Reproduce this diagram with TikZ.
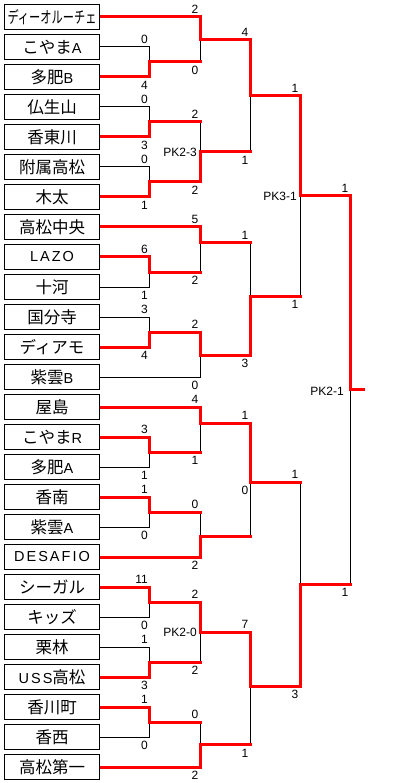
\documentclass[tikz,border=0pt]{standalone}
\usepackage{fontspec}
\usepackage{graphicx}
\setmainfont{Liberation Sans}
\newfontfamily\jp{Noto Sans CJK JP}
\newfontfamily\latn[LetterSpace=14]{Liberation Sans}
\newcommand\romn[1]{{\latn\fontsize{14.5}{16}\selectfont #1}}
\usetikzlibrary{backgrounds}
\tikzset{
  team/.style={draw, line width=1pt, fill=white, minimum width=95pt, minimum height=25pt,
    inner sep=0pt, font=\jp\fontsize{16.5}{18}\selectfont},
  lose/.style={line width=1pt, black},
  win/.style={line width=3pt, red, line cap=rect, line join=miter},
  sc/.style={font=\fontsize{12}{12}\selectfont, inner sep=0pt, anchor=east},
}
\begin{document}
\begin{tikzpicture}[x=1pt,y=-1pt]
\useasboundingbox (0,0) rectangle (413,783);
% teams
\node[team] (t0) at (52,17) {\scalebox{0.68}[1]{ディーオルーチェ}};
\node[team] (t1) at (52,47) {こやま\romn{A}};
\node[team] (t2) at (52,77) {多肥\romn{B}};
\node[team] (t3) at (52,107) {仏生山};
\node[team] (t4) at (52,137) {香東川};
\node[team] (t5) at (52,167) {附属高松};
\node[team] (t6) at (52,197) {木太};
\node[team] (t7) at (52,227) {高松中央};
\node[team] (t8) at (52,257) {\romn{LAZO}};
\node[team] (t9) at (52,287) {十河};
\node[team] (t10) at (52,317) {国分寺};
\node[team] (t11) at (52,347) {ディアモ};
\node[team] (t12) at (52,377) {紫雲\romn{B}};
\node[team] (t13) at (52,407) {屋島};
\node[team] (t14) at (52,437) {こやま\romn{R}};
\node[team] (t15) at (52,467) {多肥\romn{A}};
\node[team] (t16) at (52,497) {香南};
\node[team] (t17) at (52,527) {紫雲\romn{A}};
\node[team] (t18) at (52,557) {\romn{DESAFIO}};
\node[team] (t19) at (52,587) {シーガル};
\node[team] (t20) at (52,617) {キッズ};
\node[team] (t21) at (52,647) {栗林};
\node[team] (t22) at (52,677) {\romn{USS}高松};
\node[team] (t23) at (52,707) {香川町};
\node[team] (t24) at (52,737) {香西};
\node[team] (t25) at (52,767) {高松第一};
% junctions
\coordinate (a1) at (149.5,62);
\coordinate (a2) at (149.5,122);
\coordinate (a3) at (149.5,182);
\coordinate (a4) at (149.5,272);
\coordinate (a5) at (149.5,332);
\coordinate (a6) at (149.5,452);
\coordinate (a7) at (149.5,512);
\coordinate (a8) at (149.5,602);
\coordinate (a9) at (149.5,662);
\coordinate (a10) at (149.5,722);
\coordinate (b1) at (200,39.5);
\coordinate (b2) at (200,152);
\coordinate (b3) at (200,243);
\coordinate (b4) at (200,355);
\coordinate (b5) at (200,423);
\coordinate (b6) at (200,536);
\coordinate (b7) at (200,632);
\coordinate (b8) at (200,744.5);
\coordinate (c1) at (250,95.5);
\coordinate (c2) at (250,296);
\coordinate (c3) at (250,482);
\coordinate (c4) at (250,686);
\coordinate (d1) at (300,195.5);
\coordinate (d2) at (300,584);
\coordinate (e1) at (350,389.5);
\coordinate (fin) at (363,389.5);
\begin{scope}[on background layer]
% losers (black)
\draw[lose] (t1.east) -| (a1);
\draw[lose] (t3.east) -| (a2);
\draw[lose] (t5.east) -| (a3);
\draw[lose] (t9.east) -| (a4);
\draw[lose] (t10.east) -| (a5);
\draw[lose] (t15.east) -| (a6);
\draw[lose] (t17.east) -| (a7);
\draw[lose] (t20.east) -| (a8);
\draw[lose] (t21.east) -| (a9);
\draw[lose] (t24.east) -| (a10);
\draw[lose] (b1 |- a1) -- (b1);
\draw[lose] (b2 |- a2) -- (b2);
\draw[lose] (b3 |- a4) -- (b3);
\draw[lose] (t12.east) -| (b4);
\draw[lose] (b5 |- a6) -- (b5);
\draw[lose] (b6 |- a7) -- (b6);
\draw[lose] (b7 |- a9) -- (b7);
\draw[lose] (b8 |- a10) -- (b8);
\draw[lose] (c1 |- b2) -- (c1);
\draw[lose] (c2 |- b3) -- (c2);
\draw[lose] (c3 |- b6) -- (c3);
\draw[lose] (c4 |- b8) -- (c4);
\draw[lose] (d1 |- c2) -- (d1);
\draw[lose] (d2 |- c3) -- (d2);
\draw[lose] (e1 |- d2) -- (e1);
% winners (red)
\draw[win] (t2.east) -| (a1) -- (b1 |- a1);
\draw[win] (t4.east) -| (a2) -- (b2 |- a2);
\draw[win] (t6.east) -| (a3) -- (b2 |- a3);
\draw[win] (t8.east) -| (a4) -- (b3 |- a4);
\draw[win] (t11.east) -| (a5) -- (b4 |- a5);
\draw[win] (t14.east) -| (a6) -- (b5 |- a6);
\draw[win] (t16.east) -| (a7) -- (b6 |- a7);
\draw[win] (t19.east) -| (a8) -- (b7 |- a8);
\draw[win] (t22.east) -| (a9) -- (b7 |- a9);
\draw[win] (t23.east) -| (a10) -- (b8 |- a10);
\draw[win] (t0.east) -| (b1) -- (c1 |- b1);
\draw[win] (b2 |- a3) -- (b2) -- (c1 |- b2);
\draw[win] (t7.east) -| (b3) -- (c2 |- b3);
\draw[win] (b4 |- a5) -- (b4) -- (c2 |- b4);
\draw[win] (t13.east) -| (b5) -- (c3 |- b5);
\draw[win] (t18.east) -| (b6) -- (c3 |- b6);
\draw[win] (b7 |- a8) -- (b7) -- (c4 |- b7);
\draw[win] (t25.east) -| (b8) -- (c4 |- b8);
\draw[win] (c1 |- b1) -- (c1) -- (d1 |- c1);
\draw[win] (c2 |- b4) -- (c2) -- (d1 |- c2);
\draw[win] (c3 |- b5) -- (c3) -- (d2 |- c3);
\draw[win] (c4 |- b7) -- (c4) -- (d2 |- c4);
\draw[win] (d1 |- c1) -- (d1) -- (e1 |- d1);
\draw[win] (d2 |- c4) -- (d2) -- (e1 |- d2);
\draw[win] (e1 |- d1) -- (e1) -- (fin);
\end{scope}
% scores round 1
\foreach \y/\s in {47/0,107/0,167/0,257/6,317/3,437/3,497/1,587/11,647/1,707/1}
  \node[sc] at (148,\y-7.5) {\s};
\foreach \y/\s in {77/4,137/3,197/1,287/1,347/4,467/1,527/0,617/0,677/3,737/0}
  \node[sc] at (148,\y+8.5) {\s};
% round 2
\foreach \y/\s in {17/2,122/2,227/5,332/2,407/4,512/0,602/2,722/0}
  \node[sc] at (198.5,\y-7.5) {\s};
\foreach \y/\s in {62/0,182/2,272/2,377/0,452/1,557/2,662/2,767/2}
  \node[sc] at (198.5,\y+8.5) {\s};
% round 3
\foreach \y/\s in {39.5/4,243/1,423/1,632/7}
  \node[sc] at (248.5,\y-7.5) {\s};
\foreach \y/\s in {152/1,355/3,482/0,744.5/1}
  \node[sc] at (248.5,\y+8.5) {\s};
% round 4
\node[sc] at (298.5,95.5-7.5) {1};
\node[sc] at (298.5,296+8.5) {1};
\node[sc] at (298.5,482-7.5) {1};
\node[sc] at (298.5,686+8.5) {3};
% final
\node[sc] at (348.5,195.5-7.5) {1};
\node[sc] at (348.5,584+8.5) {1};
% PK labels
\node[sc] (pk1) at (197,152.5) {PK2-3};
\node[sc] (pk2) at (197,632.5) {PK2-0};
\node[sc] (pk3) at (297,196.5) {PK3-1};
\node[sc] (pk4) at (344,391) {PK2-1};
\end{tikzpicture}
\end{document}
